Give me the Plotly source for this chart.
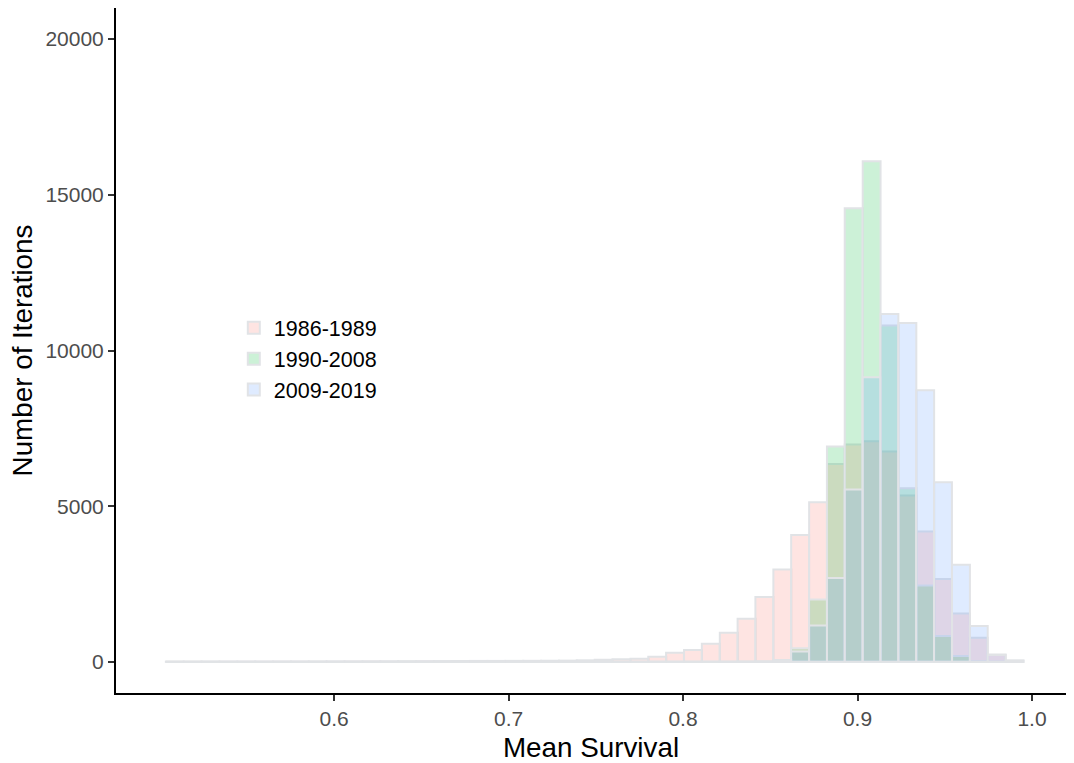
import plotly.graph_objects as go

# Histogram bin centres (Mean Survival)
bin_centers = [
    0.5087, 0.5190, 0.5292, 0.5394, 0.5497, 0.5599, 0.5702, 0.5804, 0.5906, 0.6009,
    0.6111, 0.6214, 0.6316, 0.6418, 0.6521, 0.6623, 0.6726, 0.6828, 0.6930, 0.7033,
    0.7135, 0.7238, 0.7340, 0.7442, 0.7545, 0.7647, 0.7750, 0.7852, 0.7954, 0.8057,
    0.8159, 0.8262, 0.8364, 0.8466, 0.8569, 0.8671, 0.8774, 0.8876, 0.8978, 0.9081,
    0.9183, 0.9286, 0.9388, 0.9490, 0.9593, 0.9695, 0.9798, 0.9900,
]
bin_width = 0.01024

series_names = ["1986-1989", "1990-2008", "2009-2019"]

counts_1986_1989 = [
    8, 8, 9, 10, 10, 10, 12, 12, 14, 15,
    16, 18, 20, 22, 24, 26, 28, 30, 30, 32,
    34, 36, 40, 50, 70, 80, 100, 166, 294, 380,
    583, 936, 1386, 2080, 2964, 4078, 5128, 6358, 6978, 7087,
    6753, 5340, 4185, 2665, 1557, 777, 240, 30,
]
counts_1990_2008 = [
    0, 0, 0, 0, 0, 0, 0, 0, 0, 0,
    0, 0, 0, 0, 0, 0, 0, 0, 0, 0,
    0, 0, 0, 0, 0, 0, 0, 0, 0, 0,
    0, 2, 5, 10, 30, 440, 2001, 6914, 14568, 16078,
    10799, 5577, 2451, 830, 190, 15, 0, 0,
]
counts_2009_2019 = [
    0, 0, 0, 0, 0, 0, 0, 0, 0, 0,
    0, 0, 0, 0, 0, 0, 0, 0, 0, 0,
    0, 0, 0, 0, 0, 0, 0, 0, 0, 2,
    3, 5, 8, 15, 60, 330, 1166, 2697, 5533, 9142,
    11174, 10885, 8724, 5770, 3115, 1150, 220, 50,
]

y_tick_vals = [0, 5000, 10000, 15000, 20000]
x_tick_vals = [0.6, 0.7, 0.8, 0.9, 1.0]

fills = ["rgba(248,118,109,0.2)", "rgba(0,186,56,0.2)", "rgba(97,156,255,0.2)"]
outline = "#e1e3e6"

fig = go.Figure()
for name, counts, fill in zip(series_names,
                              [counts_1986_1989, counts_1990_2008, counts_2009_2019],
                              fills):
    fig.add_trace(go.Bar(
        x=bin_centers, y=counts, width=bin_width, name=name,
        marker=dict(color=fill, line=dict(color=outline, width=2)),
    ))

font_family = "Liberation Sans, Arial, sans-serif"

fig.update_layout(
    width=1074, height=763,
    barmode="overlay",
    paper_bgcolor="white", plot_bgcolor="white",
    margin=dict(l=116, r=8, t=8, b=70, autoexpand=False),
    font=dict(family=font_family, color="black"),
    showlegend=True,
    legend=dict(
        x=0.124, y=0.488, xanchor="left", yanchor="middle",
        bgcolor="rgba(0,0,0,0)", borderwidth=0,
        font=dict(size=21.5, color="black", family=font_family),
        itemsizing="constant",
    ),
)

fig.update_xaxes(
    range=[0.475, 1.0195],
    showgrid=False, zeroline=False,
    showline=True, linecolor="black", linewidth=2,
    ticks="outside", ticklen=6, tickwidth=2, tickcolor="#333333",
    tickmode="array", tickvals=x_tick_vals,
    ticktext=[f"{v:.1f}" for v in x_tick_vals],
    tickfont=dict(size=21, color="#4d4d4d"),
    title=dict(text="Mean Survival", font=dict(size=27.8, color="black"), standoff=9),
    automargin=False,
)
fig.update_yaxes(
    range=[-1000, 21000],
    showgrid=False, zeroline=False,
    showline=True, linecolor="black", linewidth=2,
    ticks="outside", ticklen=6, tickwidth=2, tickcolor="#333333",
    tickmode="array", tickvals=y_tick_vals,
    ticktext=[str(v) for v in y_tick_vals],
    tickfont=dict(size=21, color="#4d4d4d"),
    title=dict(text="Number of Iterations", font=dict(size=27.8, color="black"), standoff=5),
    automargin=False,
)

fig.write_html("out.html")
